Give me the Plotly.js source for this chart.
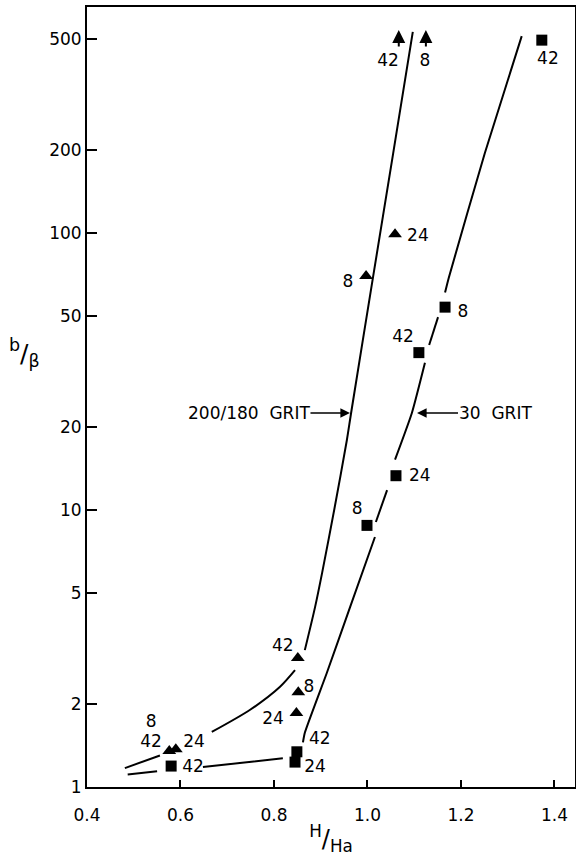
<!DOCTYPE html>
<html>
<head>
<meta charset="utf-8">
<script src="https://cdn.plot.ly/plotly-3.0.1.min.js"></script>
<style>html,body{margin:0;padding:0;background:#fff;}#chart{width:576px;height:864px;}</style>
</head>
<body>
<div id="chart"></div>
<script>
// 200/180 grit (triangles)
var fineX = [0.997, 1.059, 0.851, 0.852, 0.848, 0.576, 0.590];
var fineY = [70, 99, 2.92, 2.2, 1.85, 1.35, 1.37];
var fineLabelX = [1.044, 1.123, 0.958, 1.108, 0.819, 0.875, 0.798, 0.537, 0.537, 0.629];
var fineLabelY = [414, 414, 66, 96.8, 3.2, 2.28, 1.75, 1.70, 1.45, 1.45];
var fineLabelText = ["42", "8", "8", "24", "42", "8", "24", "8", "42", "24"];
var fineCurveX = [0.481, 0.556, null, 0.667, 0.749, 0.813, 0.845, null, 0.866, 0.888, 0.903, 0.930, 0.956, 0.965, 1.012, 1.055, 1.097];
var fineCurveY = [1.17, 1.30, null, 1.58, 1.90, 2.30, 2.64, null, 3.12, 4.47, 5.93, 10.25, 17.9, 22.4, 69.4, 194, 532];
// off-scale points (arrows)
var offX = [1.067, 1.125];
var offY = [541, 541];

// 30 grit (squares)
var coarseX = [1.373, 1.166, 1.110, 1.061, 0.999, 0.849, 0.845, 0.580];
var coarseY = [497, 54, 37, 13.3, 8.8, 1.34, 1.23, 1.19];
var coarseLabelX = [1.386, 1.204, 1.076, 1.112, 0.978, 0.898, 0.888, 0.627];
var coarseLabelY = [421, 51.5, 41.8, 13.2, 10, 1.48, 1.17, 1.17];
var coarseLabelText = ["42", "8", "42", "24", "8", "42", "24", "42"];
var coarseCurveX = [0.487, 0.550, null, 0.648, 0.727, 0.819, null, 0.862, 0.866, 0.913, 0.963, 1.016, null, 1.018, 1.042, null, 1.059, 1.095, 1.123, null, 1.132, 1.151, null, 1.166, 1.174, 1.251, 1.330];
var coarseCurveY = [1.11, 1.14, null, 1.18, 1.22, 1.27, null, 1.45, 1.57, 2.58, 4.47, 7.99, null, 9.05, 11.8, null, 15.2, 22.4, 34, null, 39.4, 49.7, null, 61, 69, 194, 514];

// axis ticks
var xTicks = [0.4, 0.6, 0.8, 1.0, 1.2, 1.4];
var xTickText = ["0.4", "0.6", "0.8", "1.0", "1.2", "1.4"];
var yTicks = [1, 2, 5, 10, 20, 50, 100, 200, 500];
var yTickText = ["1", "2", "5", "10", "20", "50", "100", "200", "500"];

var FONT = "DejaVu Sans";
var lbl = {family: FONT, size: 17, color: "#000"};

var traces = [
  {x: fineCurveX, y: fineCurveY, mode: "lines", line: {color: "#000", width: 2, shape: "spline", smoothing: 0.8}, connectgaps: false, hoverinfo: "skip"},
  {x: coarseCurveX, y: coarseCurveY, mode: "lines", line: {color: "#000", width: 2, shape: "spline", smoothing: 0.5}, connectgaps: false, hoverinfo: "skip"},
  {x: fineX, y: fineY, mode: "markers", marker: {symbol: "triangle-up", size: 12, color: "#000"}},
  {x: coarseX, y: coarseY, mode: "markers", marker: {symbol: "square", size: 11, color: "#000"}},
  {x: fineLabelX, y: fineLabelY, mode: "text", text: fineLabelText, textposition: "middle center", textfont: lbl},
  {x: coarseLabelX, y: coarseLabelY, mode: "text", text: coarseLabelText, textposition: "middle center", textfont: lbl}
];

var annotations = [];
for (var i = 0; i < offX.length; i++) {
  annotations.push({x: offX[i], y: Math.log10(offY[i]), xref: "x", yref: "y", text: "", showarrow: true,
    ax: 0, ay: 18, arrowhead: 2, arrowsize: 1.3, arrowwidth: 2, arrowcolor: "#000"});
}
annotations.push({x: 0.9626, y: Math.log10(22.4), xref: "x", yref: "y", text: "200/180\u00a0\u00a0GRIT",
  showarrow: true, ax: -101, ay: 0, arrowhead: 2, arrowsize: 1.2, arrowwidth: 1.6, arrowcolor: "#000",
  font: lbl, borderpad: 0});
annotations.push({x: 1.106, y: Math.log10(22.4), xref: "x", yref: "y", text: "30\u00a0\u00a0GRIT",
  showarrow: true, ax: 78, ay: 0, arrowhead: 2, arrowsize: 1.2, arrowwidth: 1.6, arrowcolor: "#000",
  font: lbl, borderpad: 0});
annotations.push({x: -0.129, y: 0.556, xref: "paper", yref: "paper", xanchor: "center", yanchor: "middle",
  text: "<sup>b</sup>/<sub>\u03b2</sub>",
  showarrow: false, font: {family: FONT, size: 25, color: "#000"}});

var layout = {
  width: 576, height: 864,
  margin: {l: 87, r: 1, t: 7, b: 77},
  paper_bgcolor: "#fff", plot_bgcolor: "#fff",
  showlegend: false,
  font: {family: FONT, size: 17, color: "#000"},
  xaxis: {
    range: [0.4, 1.444], tickvals: xTicks, ticktext: xTickText,
    ticks: "inside", ticklen: 7, tickwidth: 2, tickcolor: "#000",
    showline: true, linecolor: "#000", linewidth: 2, mirror: true,
    showgrid: false, zeroline: false,
    tickfont: {family: FONT, size: 17, color: "#000"},
    ticklabelstandoff: 12,
    title: {text: "<sup>H</sup>/<sub>Ha</sub>", font: {family: FONT, size: 24, color: "#000"}, standoff: 6}
  },
  yaxis: {
    type: "log", range: [0, 2.816], tickvals: yTicks, ticktext: yTickText,
    ticks: "inside", ticklen: 10, tickwidth: 2, tickcolor: "#000",
    showline: true, linecolor: "#000", linewidth: 2, mirror: true,
    showgrid: false, zeroline: false,
    tickfont: {family: FONT, size: 17, color: "#000"},
    ticksuffix: "\u00a0\u00a0\u2009"
  },
  annotations: annotations
};

Plotly.newPlot("chart", traces, layout, {staticPlot: true});
</script>
</body>
</html>
